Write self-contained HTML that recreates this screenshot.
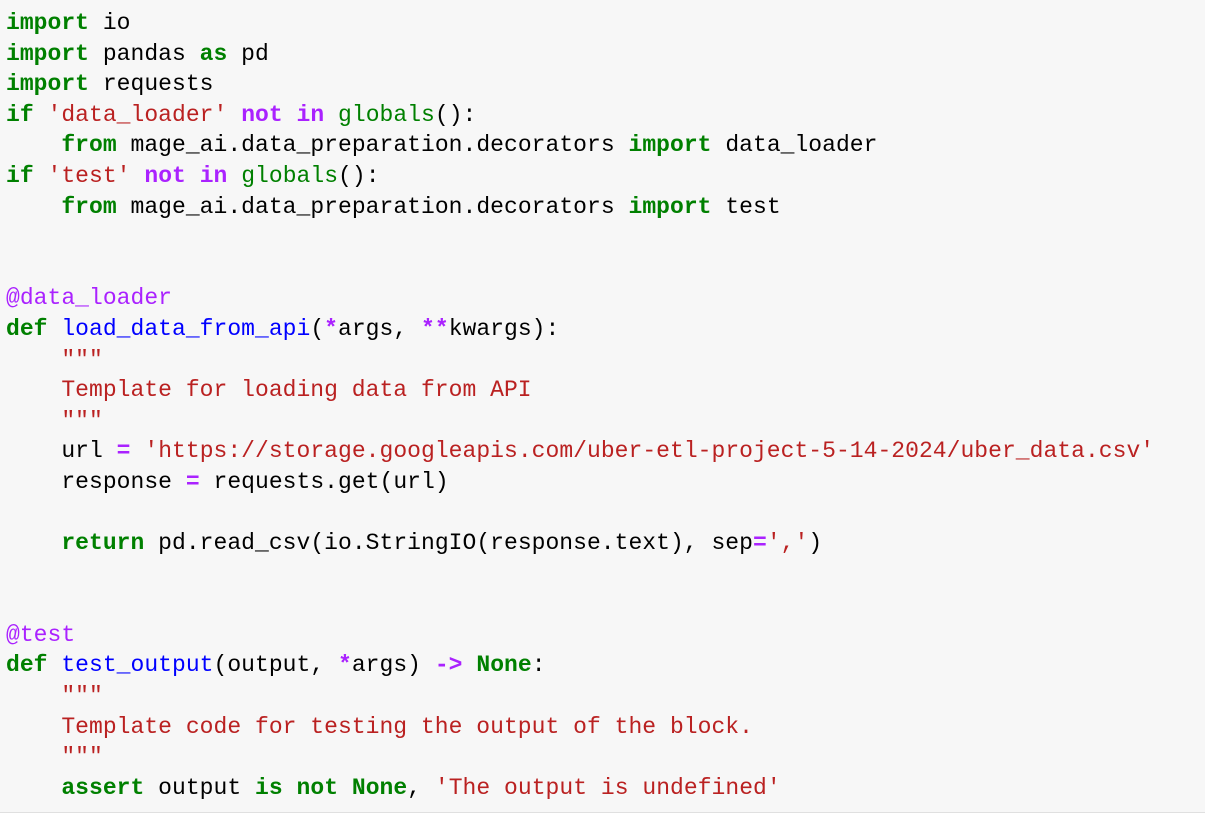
<!DOCTYPE html>
<html><head><meta charset="utf-8"><style>
html,body{margin:0;padding:0;}
body{width:1205px;height:820px;background:#fff;overflow:hidden;}
.box{position:absolute;left:0;top:0;width:1205px;height:812px;background:#f7f7f7;border-bottom:1px solid #e0e0e0;}
pre{position:absolute;left:6px;top:8px;margin:0;font-family:"Liberation Mono",monospace;font-size:23px;line-height:30.6px;letter-spacing:0.03px;color:#000;}
.k{color:#008000;font-weight:bold}
.s{color:#ba2121}
.d{color:#aa22ff}
.f{color:#0000ff}
.o{color:#aa22ff;font-weight:bold}
</style></head><body><div class="box"></div>
<pre><span class="k">import</span> io
<span class="k">import</span> pandas <span class="k">as</span> pd
<span class="k">import</span> requests
<span class="k">if</span> <span class="s">'data_loader'</span> <span class="o">not</span> <span class="o">in</span> <span class="k" style="font-weight:normal">globals</span>():
    <span class="k">from</span> mage_ai.data_preparation.decorators <span class="k">import</span> data_loader
<span class="k">if</span> <span class="s">'test'</span> <span class="o">not</span> <span class="o">in</span> <span class="k" style="font-weight:normal">globals</span>():
    <span class="k">from</span> mage_ai.data_preparation.decorators <span class="k">import</span> test


<span class="d">@data_loader</span>
<span class="k">def</span> <span class="f">load_data_from_api</span>(<span class="o">*</span>args, <span class="o">**</span>kwargs):
    <span class="s">"""</span>
<span class="s">    Template for loading data from API</span>
<span class="s">    """</span>
    url <span class="o">=</span> <span class="s">'https://storage.googleapis.com/uber-etl-project-5-14-2024/uber_data.csv'</span>
    response <span class="o">=</span> requests.get(url)

    <span class="k">return</span> pd.read_csv(io.StringIO(response.text), sep<span class="o">=</span><span class="s">','</span>)


<span class="d">@test</span>
<span class="k">def</span> <span class="f">test_output</span>(output, <span class="o">*</span>args) <span class="o">-&gt;</span> <span class="k">None</span>:
    <span class="s">"""</span>
<span class="s">    Template code for testing the output of the block.</span>
<span class="s">    """</span>
    <span class="k">assert</span> output <span class="o" style="color:#008000">is</span> <span class="o" style="color:#008000">not</span> <span class="k">None</span>, <span class="s">'The output is undefined'</span></pre>
</body></html>
